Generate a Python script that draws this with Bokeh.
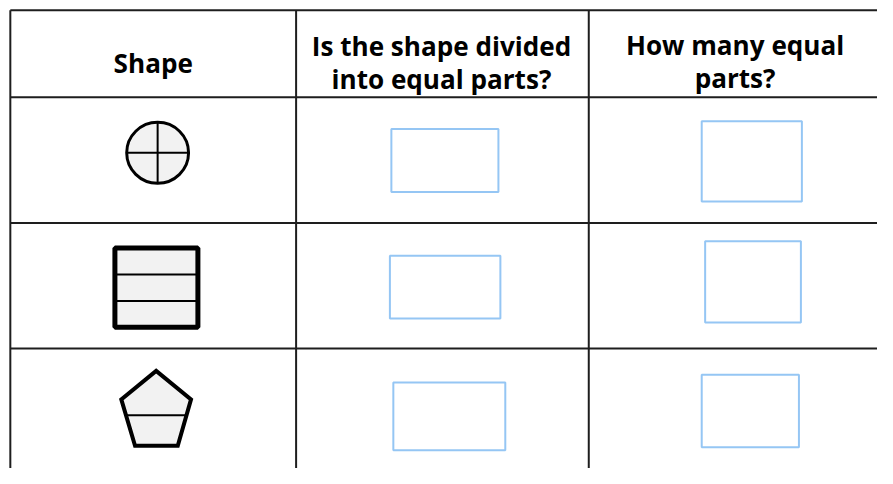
from bokeh.plotting import figure
from bokeh.models import Range1d
from bokeh.core.properties import value
from bokeh.embed import file_html
from bokeh.resources import INLINE

# ---- content ----
header_lines = [["Shape"], ["Is the shape divided", "into equal parts?"], ["How many equal", "parts?"]]
shape_names = ["circle", "square", "pentagon"]
shape_parts = [4, 3, 2]

# ---- layout (pixel coordinates of the 893x484 reference) ----
REF_W, REF_H = 893, 484
FIG_W, FIG_H = 877, 468
col_edges = [10, 301, 599, 900]
row_edges = [10, 100, 230, 360, 490]
header_x = [155.5, 449, 748]
header_baselines = [[65], [47, 81], [46.5, 80.5]]
box_left = [[398, 714], [396.5, 717.5], [400, 714]]
box_right = [[507, 816], [509, 815], [514, 813]]
box_top = [[133, 125], [264, 249], [395, 387]]
box_bottom = [[198, 208], [329, 333], [465, 462]]

LINE = "#1e1e1e"
FILL = "#f2f2f2"
BLUE = "#95c6f4"
FONT = value("Open Sans")
font_px = 27 * FIG_H / REF_H

p = figure(width=FIG_W, height=FIG_H, output_backend="svg", toolbar_location=None,
           x_range=Range1d(0, REF_W), y_range=Range1d(REF_H, 0),
           x_axis_location=None, y_axis_location=None, min_border=0,
           outline_line_color=None, background_fill_color="white")
p.grid.visible = False

# table grid
p.segment(x0=[col_edges[0]] * len(row_edges[:-1]), x1=[col_edges[-1]] * len(row_edges[:-1]),
          y0=row_edges[:-1], y1=row_edges[:-1], line_color=LINE, line_width=2)
p.segment(x0=col_edges[:-1], x1=col_edges[:-1], y0=[row_edges[0]] * 3, y1=[row_edges[-1]] * 3,
          line_color=LINE, line_width=2)

# headers
for ci, lines in enumerate(header_lines):
    for li, txt in enumerate(lines):
        p.text(x=[header_x[ci]], y=[header_baselines[ci][li]], text=[txt], text_font=FONT,
               text_font_style="bold", text_font_size=f"{font_px:.1f}px", text_align="center",
               text_baseline="alphabetic", text_color="black")

# circle (4 parts)
ccx, ccy, cr = 160, 157.5, 31.5
p.ellipse(x=[ccx], y=[ccy], width=2 * cr, height=2 * cr, fill_color=FILL, line_color="black",
          line_width=3)
p.segment(x0=[ccx, ccx - cr], x1=[ccx, ccx + cr], y0=[ccy - cr, ccy], y1=[ccy + cr, ccy],
          line_color="black", line_width=2)

# square (3 parts)
sl, sr, st, sb = 116.5, 201, 256, 338
p.quad(left=[sl], right=[sr], top=[st], bottom=[sb], fill_color=FILL, line_color="black",
       line_width=5)
n = shape_parts[1]
ys = [st + (sb - st) * k / n for k in range(1, n)]
p.segment(x0=[sl] * len(ys), x1=[sr] * len(ys), y0=ys, y1=ys, line_color="black", line_width=2)

# pentagon (2 unequal parts)
px = [158.5, 194, 180.5, 137, 123]
py = [383, 412.5, 460.5, 460.5, 412.5]
p.patch(x=px, y=py, fill_color=FILL, line_color="black", line_width=4, line_join="miter")
p.segment(x0=[127.8], x1=[189.4], y0=[429], y1=[429], line_color="black", line_width=2)

# answer boxes
L, R, T, B = [], [], [], []
for r in range(3):
    for c in range(2):
        L.append(box_left[r][c]); R.append(box_right[r][c])
        T.append(box_top[r][c]); B.append(box_bottom[r][c])
p.quad(left=L, right=R, top=T, bottom=B, fill_color=None, line_color=BLUE, line_width=2)

open("out.html", "w").write(file_html(p, INLINE))
